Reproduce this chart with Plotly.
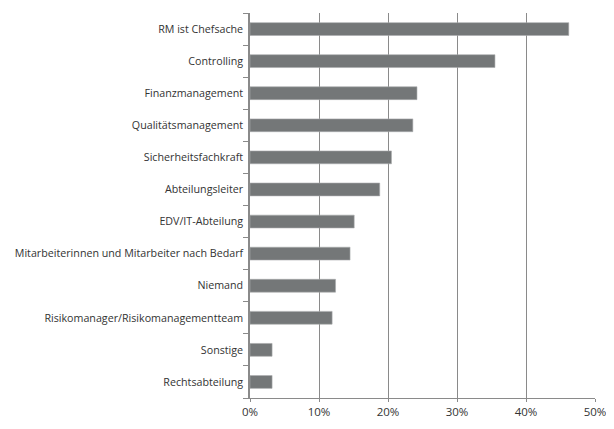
import plotly.graph_objects as go

categories = [
    "RM ist Chefsache",
    "Controlling",
    "Finanzmanagement",
    "Qualitätsmanagement",
    "Sicherheitsfachkraft",
    "Abteilungsleiter",
    "EDV/IT-Abteilung",
    "Mitarbeiterinnen und Mitarbeiter nach Bedarf",
    "Niemand",
    "Risikomanager/Risikomanagementteam",
    "Sonstige",
    "Rechtsabteilung",
]
values = [0.462, 0.355, 0.242, 0.236, 0.205, 0.188, 0.151, 0.145, 0.124, 0.119, 0.032, 0.032]
x_ticks = [0, 0.1, 0.2, 0.3, 0.4, 0.5]
x_tick_labels = ["0%", "10%", "20%", "30%", "40%", "50%"]

fig = go.Figure(
    go.Bar(
        x=values,
        y=categories,
        orientation="h",
        marker=dict(color="#747778", line=dict(color="#a9abac", width=0.6)),
    )
)

# the page body adds an 8px offset, compensated in the margins
fig.update_layout(
    width=614,
    height=429,
    margin=dict(l=242, r=27, t=5, b=39),
    paper_bgcolor="white",
    plot_bgcolor="white",
    bargap=0.6,
    showlegend=False,
    font=dict(family="Open Sans", size=10.7, color="#333333"),
)

fig.update_xaxes(
    range=[0, 0.5],
    tickvals=x_ticks,
    ticktext=x_tick_labels,
    showgrid=True,
    gridcolor="#8a8a8a",
    gridwidth=1,
    showline=True,
    linecolor="#8a8a8a",
    linewidth=1,
    ticks="outside",
    ticklen=3,
    tickcolor="#8a8a8a",
    zeroline=False,
    automargin=False,
    tickfont=dict(size=11.5),
    fixedrange=True,
)

fig.update_yaxes(
    categoryorder="array",
    categoryarray=categories[::-1],
    showline=True,
    linecolor="#8a8a8a",
    linewidth=1.5,
    ticks="outside",
    tickson="boundaries",
    ticklen=5,
    tickcolor="#8a8a8a",
    showgrid=False,
    ticklabelstandoff=3,
    automargin=False,
    fixedrange=True,
)

fig.write_html("out.html")
